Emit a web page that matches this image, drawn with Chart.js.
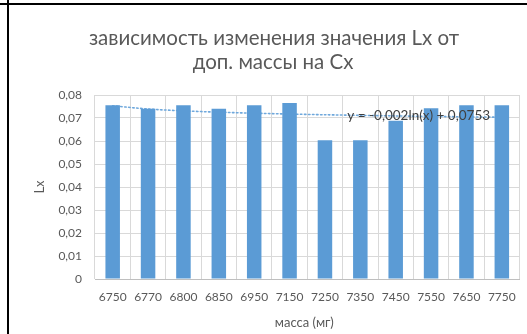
<!DOCTYPE html>
<html>
<head>
<meta charset="utf-8">
<script src="https://cdn.jsdelivr.net/npm/chart.js@4/dist/chart.umd.min.js"></script>
<style>
  html, body { margin: 0; padding: 0; background: #fff; }
  #wrap { width: 527px; height: 334px; position: relative; }
</style>
</head>
<body>
<div id="wrap"><canvas id="c" width="527" height="334"></canvas></div>
<script>
// masses (mg) on the category axis
const masses = ['6750', '6770', '6800', '6850', '6950', '7150', '7250', '7350', '7450', '7550', '7650', '7750'];
// measured Lx for each mass
const lxValues = [0.0755, 0.074, 0.0755, 0.074, 0.0755, 0.0765, 0.0603, 0.0603, 0.0688, 0.0742, 0.0755, 0.0755];
// logarithmic trendline y = a*ln(x) + b, x = 1..n
const trendSlope = -0.002;
const trendIntercept = 0.0753;
const yTicks = [0, 0.01, 0.02, 0.03, 0.04, 0.05, 0.06, 0.07, 0.08];

const titleLines = ['зависимость изменения значения Lx от', 'доп. массы на Cx'];
const xTitle = 'масса (мг)';
const yTitle = 'Lx';
const trendLabel = 'y = -0,002ln(x) + 0,0753';

const FONT = "Lato, 'Open Sans', sans-serif";
const TEXT = '#595959';
const GRID = '#d9d9d9';
const BAR = '#5b9bd5';

const trendValues = masses.map((_, i) => trendSlope * Math.log(i + 1) + trendIntercept);

const fmt = v => v === 0 ? '0' : v.toFixed(2).replace('.', ',');

const decor = {
  id: 'decor',
  beforeDraw(chart) {
    const ctx = chart.ctx;
    ctx.save();
    ctx.fillStyle = '#fff';
    ctx.fillRect(0, 0, chart.width, chart.height);
    ctx.restore();
  },
  afterDraw(chart) {
    const ctx = chart.ctx;
    const area = chart.chartArea;
    ctx.save();
    // frame lines of the surrounding table cell
    ctx.fillStyle = '#000';
    ctx.fillRect(0, 3, chart.width, 2);
    ctx.fillRect(7, 0, 2, chart.height);

    ctx.fillStyle = TEXT;
    ctx.textAlign = 'center';
    ctx.textBaseline = 'middle';
    ctx.font = `20.5px ${FONT}`;
    ctx.fillText(titleLines[0], 274, 38);
    ctx.fillText(titleLines[1], 273, 62);

    ctx.font = `13px ${FONT}`;
    ctx.fillText(xTitle, (area.left + area.right) / 2 - 3, 323);

    ctx.save();
    ctx.translate(40, (area.top + area.bottom) / 2);
    ctx.rotate(-Math.PI / 2);
    ctx.fillText(yTitle, 0, 0);
    ctx.restore();

    const xs = chart.scales.x, ys = chart.scales.y;
    ctx.font = `13.5px ${FONT}`;
    ctx.fillStyle = '#404040';
    ctx.fillText(trendLabel, xs.getPixelForValue(8.65), ys.getPixelForValue(0.0712));
    ctx.restore();
  }
};

new Chart(document.getElementById('c'), {
  type: 'bar',
  data: {
    labels: masses,
    datasets: [
      {
        type: 'line',
        data: trendValues,
        borderColor: '#6fa8dc',
        borderWidth: 1.6,
        borderDash: [1.5, 2.5],
        borderCapStyle: 'round',
        pointRadius: 0,
        fill: false,
        tension: 0.3,
        order: 2
      },
      {
        data: lxValues,
        backgroundColor: BAR,
        borderWidth: 0,
        barPercentage: 0.41,
        categoryPercentage: 1,
        order: 1
      }
    ]
  },
  options: {
    responsive: false,
    animation: false,
    events: [],
    layout: { padding: { left: 20, right: 6, top: 95, bottom: 0 } },
    plugins: { legend: { display: false }, title: { display: false }, tooltip: { enabled: false } },
    scales: {
      x: {
        grid: { color: GRID, lineWidth: 1, drawTicks: false, offset: true },
        border: { color: '#bfbfbf', width: 1 },
        ticks: { color: TEXT, font: { family: FONT, size: 12 }, padding: 11, maxRotation: 0, autoSkip: false },
        afterFit(s) { s.height = 55; }
      },
      y: {
        min: 0, max: 0.08,
        afterBuildTicks(s) { s.ticks = yTicks.map(v => ({ value: v })); },
        grid: { color: GRID, lineWidth: 1, drawTicks: false },
        border: { display: false },
        ticks: { color: TEXT, font: { family: FONT, size: 12 }, padding: 13, callback: fmt },
        afterFit(s) { s.width = 75; }
      }
    }
  },
  plugins: [decor]
});
</script>
</body>
</html>
